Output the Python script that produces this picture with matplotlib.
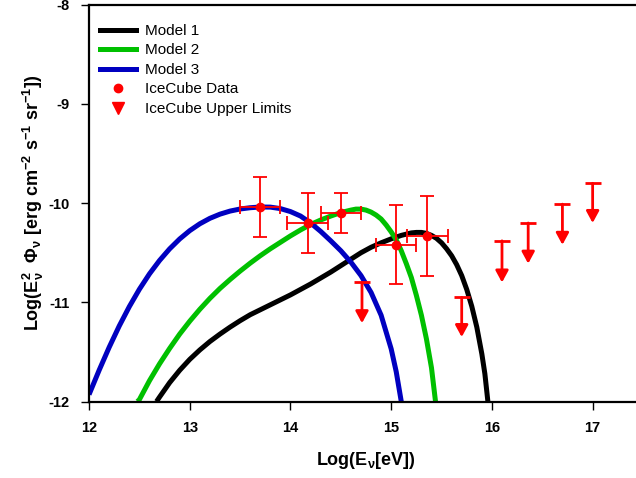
"""Neutrino flux models vs IceCube data (log-log SED)."""

import matplotlib
matplotlib.use("Agg")
import matplotlib.pyplot as plt
from matplotlib.lines import Line2D

plt.rcParams["font.family"] = ["Liberation Sans", "DejaVu Sans"]
plt.rcParams["mathtext.fontset"] = "custom"
plt.rcParams["mathtext.rm"] = "Liberation Sans"
plt.rcParams["mathtext.bf"] = "Liberation Sans:bold"
plt.rcParams["mathtext.default"] = "bf"
plt.rcParams["axes.unicode_minus"] = False

# Model curves, log10(E/eV) vs log10(E^2 Phi)
m1_x = [12.67, 12.70, 12.80, 12.90, 13.00, 13.10, 13.20, 13.30, 13.40, 13.50,
        13.60, 13.70, 13.80, 13.90, 14.00, 14.10, 14.20, 14.30, 14.40, 14.50,
        14.60, 14.70, 14.80, 14.90, 15.00, 15.10, 15.20, 15.25, 15.30, 15.35,
        15.40, 15.45, 15.50, 15.55, 15.60, 15.65, 15.70, 15.75, 15.80, 15.85,
        15.90, 15.93, 15.96]
m1_y = [-12.0, -11.955, -11.81, -11.685, -11.575, -11.48, -11.395, -11.32, -11.25, -11.185,
        -11.125, -11.075, -11.025, -10.975, -10.925, -10.87, -10.815, -10.755, -10.695, -10.63,
        -10.565, -10.50, -10.445, -10.40, -10.36, -10.325, -10.30, -10.295, -10.295, -10.305,
        -10.325, -10.355, -10.40, -10.46, -10.53, -10.62, -10.73, -10.87, -11.04, -11.25,
        -11.52, -11.72, -12.0]

m2_x = [12.48, 12.50, 12.60, 12.70, 12.80, 12.90, 13.00, 13.10, 13.20, 13.30,
        13.40, 13.50, 13.60, 13.70, 13.80, 13.90, 14.00, 14.10, 14.20, 14.30,
        14.40, 14.50, 14.60, 14.65, 14.70, 14.75, 14.80, 14.85, 14.90, 14.95,
        15.00, 15.05, 15.10, 15.15, 15.20, 15.25, 15.30, 15.35, 15.40, 15.44]
m2_y = [-12.0, -11.98, -11.79, -11.62, -11.465, -11.32, -11.19, -11.07, -10.96, -10.86,
        -10.77, -10.685, -10.605, -10.53, -10.46, -10.395, -10.33, -10.27, -10.215, -10.17,
        -10.13, -10.095, -10.07, -10.06, -10.06, -10.07, -10.09, -10.12, -10.16, -10.22,
        -10.29, -10.37, -10.48, -10.61, -10.75, -10.93, -11.13, -11.37, -11.66, -12.0]

m3_x = [12.00, 12.10, 12.20, 12.30, 12.40, 12.50, 12.60, 12.70, 12.80, 12.90,
        13.00, 13.10, 13.20, 13.30, 13.40, 13.50, 13.60, 13.70, 13.80, 13.90,
        14.00, 14.10, 14.20, 14.30, 14.40, 14.50, 14.60, 14.70, 14.80, 14.90,
        15.00, 15.05, 15.10]
m3_y = [-11.93, -11.685, -11.453, -11.238, -11.043, -10.868, -10.713, -10.578, -10.461, -10.361,
        -10.277, -10.208, -10.153, -10.111, -10.080, -10.059, -10.046, -10.039, -10.040, -10.055,
        -10.085, -10.13, -10.20, -10.285, -10.38, -10.48, -10.595, -10.73, -10.90, -11.13,
        -11.47, -11.70, -12.0]

# IceCube data points with errors
ic_x = [13.70, 14.17, 14.50, 15.05, 15.36]
ic_y = [-10.04, -10.20, -10.10, -10.42, -10.33]
ic_xerr = [0.20, 0.20, 0.20, 0.20, 0.20]
ic_yerr = [0.30, 0.30, 0.20, 0.40, 0.40]

# IceCube upper limits: bar top and arrow tip
ul_x = [14.71, 15.70, 16.10, 16.36, 16.70, 17.00]
ul_top = [-10.80, -10.95, -10.38, -10.20, -10.01, -9.80]
ul_tip = [-11.21, -11.35, -10.80, -10.61, -10.42, -10.20]

fig = plt.figure(figsize=(6.36, 4.78), dpi=100)
ax = fig.add_axes([0.140, 0.160, 0.871, 0.830])

ax.plot(m1_x, m1_y, color="black", lw=3.6, solid_capstyle="butt")
ax.plot(m2_x, m2_y, color="#00C000", lw=3.6, solid_capstyle="butt")
ax.plot(m3_x, m3_y, color="#0000C0", lw=3.6, solid_capstyle="butt")

ax.errorbar(ic_x, ic_y, xerr=ic_xerr, yerr=ic_yerr, fmt="o", color="red",
            ms=6, elinewidth=1.3, capsize=5, capthick=1.3)

# upper-limit arrows
ax.plot(ul_x, ul_top, ls="none", marker="_", ms=11, mew=2, color="red")
for x, top, tip in zip(ul_x, ul_top, ul_tip):
    ax.annotate("", xy=(x, tip), xytext=(x, top),
                arrowprops=dict(arrowstyle="-|>,head_width=0.38,head_length=0.7",
                                color="red", lw=2, shrinkA=0, shrinkB=0,
                                mutation_scale=10))

ax.set_xlim(12, 17.5)
ax.set_ylim(-12, -8)
ax.set_xticks([12, 13, 14, 15, 16, 17])
ax.set_yticks([-12, -11, -10, -9, -8])
ax.tick_params(direction="out", length=6, width=1, labelsize=10.5, pad=8)
for lab in ax.get_xticklabels() + ax.get_yticklabels():
    lab.set_fontweight("bold")
for sp in ax.spines.values():
    sp.set_linewidth(1.6)

ax.set_xlabel("Log(E$_ν$[eV])", fontsize=13, fontweight="bold", labelpad=11)
ax.set_ylabel("Log(E$^2_ν$  Φ$_ν$ [erg cm$^{-2}$ s$^{-1}$ sr$^{-1}$])",
              fontsize=13, fontweight="bold", labelpad=2)

handles = [
    Line2D([], [], color="black", lw=3.6),
    Line2D([], [], color="#00C000", lw=3.6),
    Line2D([], [], color="#0000C0", lw=3.6),
    Line2D([], [], ls="none", marker="o", ms=6, color="red"),
    Line2D([], [], ls="none", marker="v", ms=8, color="red"),
]
labels = ["Model 1", "Model 2", "Model 3", "IceCube Data", "IceCube Upper Limits"]
ax.legend(handles, labels, loc="upper left", bbox_to_anchor=(0.004, 0.975),
          frameon=False, fontsize=11, handlelength=2.3, handletextpad=0.6,
          labelspacing=0.36, borderaxespad=0.2)

fig.savefig("out.png", dpi=100)
